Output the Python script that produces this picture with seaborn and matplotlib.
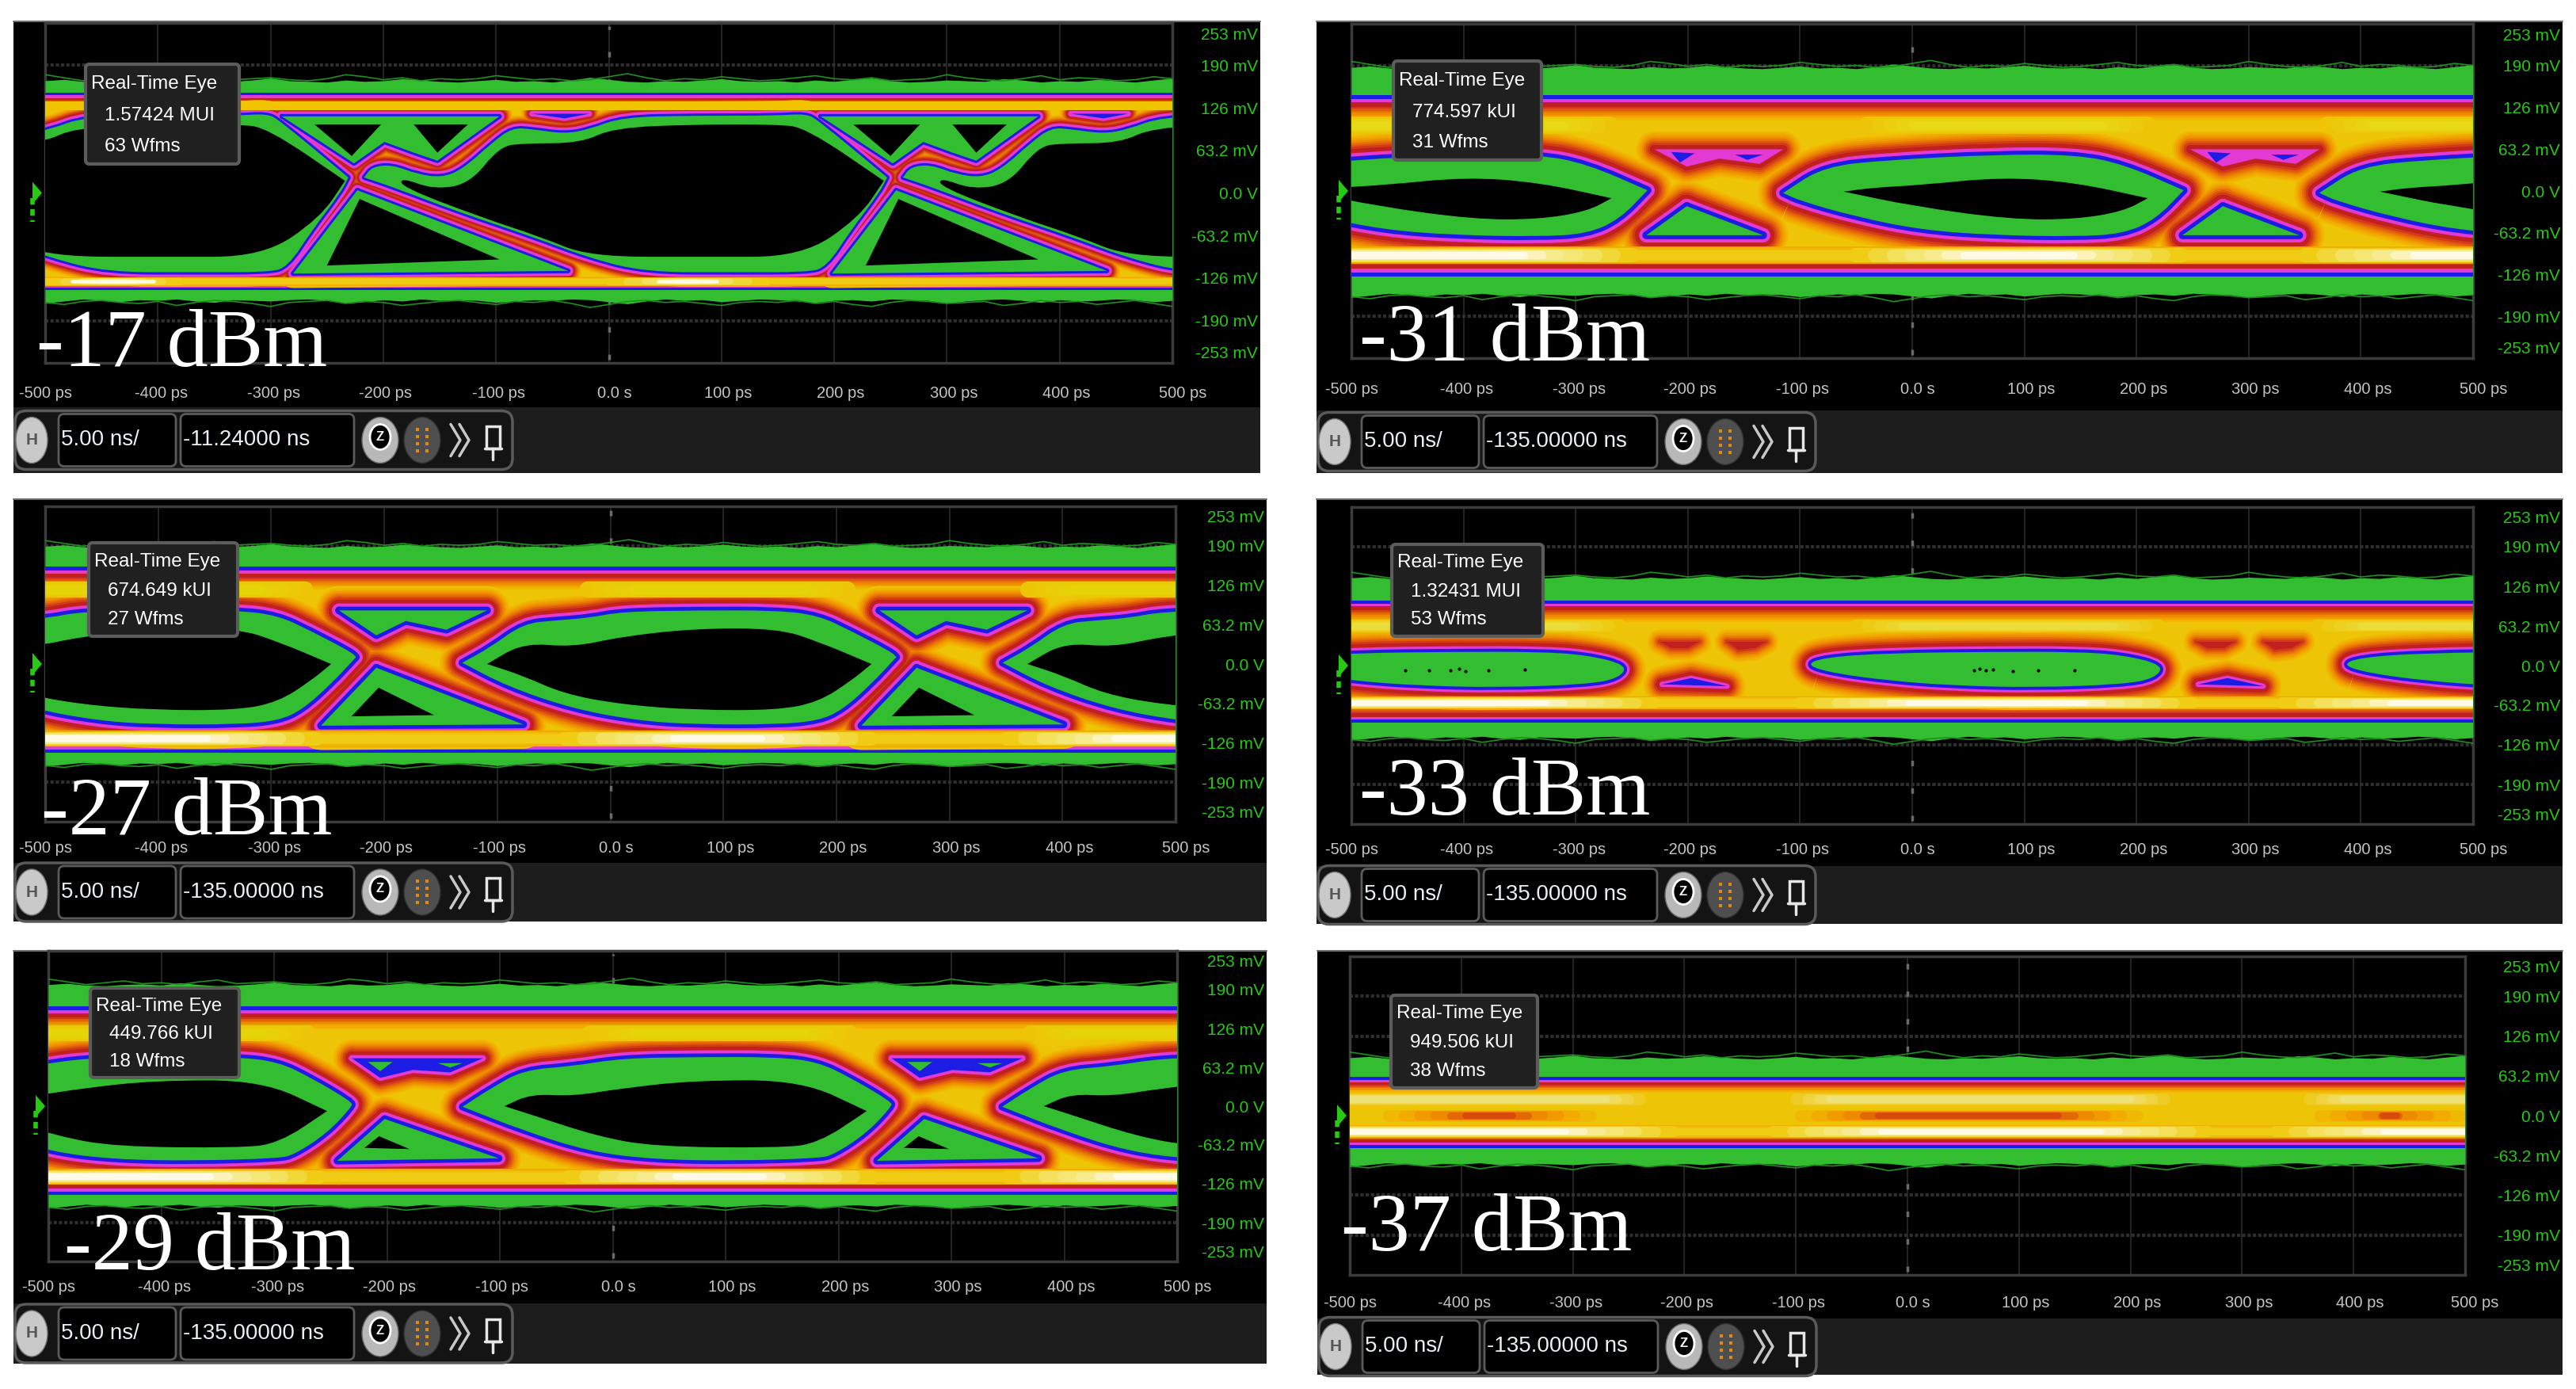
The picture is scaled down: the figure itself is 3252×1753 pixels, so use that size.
import numpy as np
import matplotlib
matplotlib.use("Agg")
import matplotlib.pyplot as plt
from matplotlib.patches import Ellipse, FancyBboxPatch, PathPatch, Polygon, Rectangle
from matplotlib.path import Path
import seaborn as sns

# tick labels and panel captions
x_tick_ps = [-500, -400, -300, -200, -100, 0, 100, 200, 300, 400, 500]
x_label_shift = [0, 3, 3, 2, 2, 5, 6, 6, 6, 6, 9]
x_tick_labels = ["-500 ps", "-400 ps", "-300 ps", "-200 ps", "-100 ps", "0.0 s",
                 "100 ps", "200 ps", "300 ps", "400 ps", "500 ps"]
y_grid_mv = [190, 126, 63.2, -63.2, -126, -190]
y_label_mv = [237, 190, 126, 63.2, 0, -63.2, -126, -190, -237]
y_labels = ["253 mV", "190 mV", "126 mV", "63.2 mV", "0.0 V", "-63.2 mV", "-126 mV", "-190 mV", "-253 mV"]
PERIOD = 478

# wiggle of the green envelope, mV
edge_noise = [2, 4, 1, 0, 2, 3, 1, 5, 2, 0, 1, 3, 6, 2, 1, 0, 3, 1, 2, 5,
              3, 1, 0, 2, 4, 1, 2, 0, 3, 7, 4, 1, 0, 2, 1, 3, 5, 2, 1, 2,
              0, 3, 1, 4, 6, 2, 0, 1, 3, 2, 1, 5, 3, 0, 2, 1, 4, 2, 0, 3, 6]
edge_ps = np.linspace(-500, 500, len(edge_noise))

# -17 dBm
p1_captions = ["-17 dBm", "1.57424 MUI", "63 Wfms", "-11.24000 ns"]
p1_levels = [165, 149, -145, -158]
p1_core = [130, -132]
p1_lens_t = [-217, -217, -210, -192, -170, -148, -130, -104, -86, -68, -39, -17, 12, 77, 149, 175, 186, 247, 247, 240, 215, 193, 175, 113, 33, -17, -68, -134, -192]
p1_lens_mv = [23, 23, 39, 42, 28, 23, 35, 74, 97, 95, 88, 95, 113, 115, 115, 118, 108, 23, 23, 0, -55, -111, -118, -118, -118, -97, -65, -28, 9]
p1_eye_t = [-184, -155, -123, -97, -75, -25, 4, 77, 149, 175, 244, 244, 222, 171, 84, -17, -61, -112, -184]
p1_eye_mv = [23, 5, 14, 69, 74, 74, 97, 102, 102, 97, 18, 18, -37, -95, -95, -95, -65, -37, 9]
p1_roof_t = [-290, -97, -152, -173, -199, -226]
p1_roof_mv = [114, 114, 48, 60, 76, 44]
p1_roof_a_t = [-261, -202, -228]
p1_roof_a_mv = [102, 102, 55]
p1_roof_b_t = [-173, -125, -152]
p1_roof_b_mv = [102, 102, 60]
p1_foot_t = [-223, -280, -36]
p1_foot_mv = [4, -120, -116]
p1_foot_eye_t = [-221, -250, -97]
p1_foot_eye_mv = [-9, -108, -99]
p1_dot_t = [-68, -17, -39]
p1_dot_mv = [118, 118, 111]

# -27 dBm
p2_captions = ["-27 dBm", "674.649 kUI", "27 Wfms", "-135.00000 ns"]
p2_levels = [187, 156, -143, -158]
p2_core = [120, -120]
p2_lens_t = [-131, -131, -106, -77, -48, -19, 10, 75, 148, 184, 213, 249, 253, 253, 231, 205, 184, 148, 75, 25, -33, -91]
p2_lens_mv = [2, 2, 27, 65, 70, 74, 84, 86, 86, 78, 53, 19, 11, 11, -32, -74, -91, -97, -97, -91, -72, -36]
p2_eye_t = [-109, -109, -77, -33, 10, 75, 148, 184, 231, 231, 213, 184, 148, 75, 10, -41, -77]
p2_eye_mv = [0, 0, 34, 27, 44, 57, 57, 36, 0, 0, -27, -61, -74, -74, -65, -48, -19]
p2_roof_t = [-240, -109, -145, -181, -207]
p2_roof_mv = [86, 86, 55, 69, 46]
p2_foot_t = [-207, -256, -77]
p2_foot_mv = [-6, -99, -97]
p2_foot_eye_t = [-205, -229, -156]
p2_foot_eye_mv = [-38, -84, -82]

# -29 dBm
p3_captions = ["-29 dBm", "449.766 kUI", "18 Wfms", "-135.00000 ns"]
p3_levels = [196, 162, -145, -160]
p3_core = [119, -115]
p3_lens_t = [-133, -133, -108, -79, -36, 8, 73, 146, 182, 211, 247, 247, 225, 196, 182, 109, 37, -21, -79]
p3_lens_mv = [-1, -1, 29, 59, 65, 78, 80, 80, 72, 46, 7, -1, -44, -79, -85, -89, -87, -74, -40]
p3_eye_t = [-96, -96, -72, -36, 8, 73, 167, 225, 225, 182, 146, 37, -14, -72]
p3_eye_mv = [0, 0, 20, 16, 29, 42, 42, -8, -8, -61, -68, -66, -49, -14]
p3_roof_t = [-231, -115, -144, -177, -206]
p3_roof_mv = [78, 78, 55, 59, 46]
p3_roof_a_t = [-217, -195, -206]
p3_roof_a_mv = [72, 72, 57]
p3_roof_b_t = [-155, -133, -144]
p3_roof_b_mv = [70, 70, 63]
p3_foot_t = [-202, -244, -101]
p3_foot_mv = [-21, -89, -85]
p3_foot_eye_t = [-207, -220, -180]
p3_foot_eye_mv = [-49, -68, -70]

# -31 dBm
p4_captions = ["-31 dBm", "774.597 kUI", "31 Wfms", "-135.00000 ns"]
p4_levels = [185, 145, -129, -155]
p4_core = [99, -97]
p4_lens_t = [-115, -115, -79, -21, 73, 145, 188, 242, 242, 217, 188, 145, 73, 8, -50, -100]
p4_lens_mv = [-3, -3, 37, 47, 55, 55, 41, 1, 1, -43, -65, -69, -67, -59, -39, -15]
p4_eye_t = [-61, -61, -35, 8, 80, 145, 210, 210, 188, 145, 87, 1]
p4_eye_mv = [-1, -1, 5, 9, 21, 13, -11, -11, -31, -43, -43, -23]
p4_roof_t = [-230, -115, -136, -172, -201]
p4_roof_mv = [63, 63, 41, 49, 37]
p4_roof_a_t = [-215, -194, -207]
p4_roof_a_mv = [59, 57, 43]
p4_roof_b_t = [-158, -133, -147]
p4_roof_b_mv = [55, 55, 47]
p4_foot_t = [-201, -237, -133]
p4_foot_mv = [-23, -67, -67]

# -33 dBm
p5_captions = ["-33 dBm", "1.32431 MUI", "53 Wfms", "-135.00000 ns"]
p5_levels = [138, 104, -91, -113]
p5_core = [63, -59]
p5_lens_t = [-95, -79, -21, 73, 145, 188, 224, 217, 188, 109, 37, -21, -71]
p5_lens_mv = [1, 13, 20, 22, 22, 17, 1, -20, -30, -35, -32, -24, -12]
p5_dot_t = [-223, -197, -172, -165]
p5_dot_mv = [-30, -20, -30, -33]
p5_patch_a_t = [-225, -190, -200, -215]
p5_patch_a_mv = [38, 38, 28, 28]
p5_patch_b_t = [-165, -130, -140, -155]
p5_patch_b_mv = [38, 38, 28, 25]
p5_speck_t = [-452, -431, -412, -404, -398, -378, -345, 55, 60, 66, 72, 90, 112, 145]
p5_speck_mv = [-8, -8, -8, -5, -9, -7, -6, -8, -5, -7, -6, -9, -8, -7]

# -37 dBm
p6_captions = ["-37 dBm", "949.506 kUI", "38 Wfms", "-135.00000 ns"]
p6_levels = [90, 62, -52, -75]
p6_core = [26, -25]
p6_mid_ps = [(-480, -270), (-110, 220), (355, 510)]

# colour ladder from the green edge into the hottest part of the trace
BLUE = "#1c1ce4"
MAGENTA = "#e43ad4"
hot_colors = sns.blend_palette(["#c2201f", "#e0570e", "#ee8a00", "#f2ab00", "#eec406"], 9)
hot_weights = np.array([2.2, 1.2, 1, 1, 1, 1, 1, 1, 1]) / 10.4
ladder = [BLUE, MAGENTA] + hot_colors
GREEN = "#33bd30"
YELLOW = "#eec406"
WHITE = "#fffbe6"
TICK_GREEN = "#27c915"

sns.set_theme(style="dark")
plt.rcParams["font.family"] = ["Liberation Sans Narrow", "Liberation Sans"]

W, H = 3252, 1753
fig = plt.figure(figsize=(W / 100, H / 100), dpi=100, facecolor="white")
page = fig.add_axes([0, 0, 1, 1], zorder=0)
page.set_xlim(0, W)
page.set_ylim(H, 0)
page.axis("off")
over = fig.add_axes([0, 0, 1, 1], zorder=5)
over.set_xlim(0, W)
over.set_ylim(H, 0)
over.axis("off")
over.patch.set_alpha(0)


def loop(ts, mvs, shift=0):
    return [t + shift for t in ts] + [ts[0] + shift], list(mvs) + [mvs[0]]


def round_path(ts, mvs, shift=0):
    # closed quadratic curve that uses the read points as control points
    p = np.column_stack([np.array(ts, dtype=float) + shift, mvs])
    mid = (p + np.roll(p, -1, axis=0)) / 2
    verts = [mid[-1]]
    codes = [Path.MOVETO]
    for a, b in zip(p, mid):
        verts += [a, b]
        codes += [Path.CURVE3, Path.CURVE3]
    return Path(verts, codes)


def paint(ax, ts, mvs, shift, col, lw):
    if len(ts) >= 8:
        ax.add_patch(PathPatch(round_path(ts, mvs, shift), fc=col, ec=col, lw=lw, joinstyle="round", zorder=3))
    else:
        xs, ys = loop(ts, mvs, shift)
        ax.fill(xs, ys, color=col, lw=0, zorder=3)
        if lw > 0:
            sns.lineplot(x=xs, y=ys, ax=ax, color=col, lw=lw, sort=False, estimator=None,
                         solid_joinstyle="round", solid_capstyle="round", zorder=3)


def streak(ax, a, b, y, width, colors, inset, pts):
    # stacked strokes so the bright streak fades out like the persistence display
    n = len(colors)
    for i, c in enumerate(colors):
        frac = 1 - 0.6 * i / n
        sns.lineplot(x=[a + i * inset, b - i * inset], y=[y, y], ax=ax, color=c, lw=width * frac * pts,
                     solid_capstyle="round", zorder=4)


def draw_eye(ax, p, plot_h):
    pts = plot_h / 506 * 0.72
    blue_w, mag_w, hot_w = p["rim"]
    widths = [blue_w, mag_w] + list(hot_w * hot_weights)
    top_g, top_b, bot_b, bot_g = p["levels"]

    # green envelope with its noisy edge
    noise = np.array(edge_noise)
    up = noise + top_g
    low = bot_g - noise[::-1]
    ax.fill_between(edge_ps, low, up, color=GREEN, lw=0, zorder=3)
    sns.lineplot(x=edge_ps, y=top_g + noise[::-1] * 1.5 + 2, ax=ax, color="#1f8f1f", lw=1.2, zorder=3)
    sns.lineplot(x=edge_ps, y=bot_g - noise * 1.5 - 2, ax=ax, color="#1f8f1f", lw=1.2, zorder=3)

    # nested band, blue on the outside
    cum = 0
    for col, w in zip(ladder, widths):
        ax.fill_between([-500, 500], bot_b + cum, top_b - cum, color=col, lw=0, zorder=3)
        cum += w

    # openings: each contour is stroked outward through the ladder
    shapes = p["shapes"]
    for j in range(len(ladder) - 1, -1, -1):
        for ts, mvs, lvl, shifts in shapes:
            for sh in shifts:
                if j >= lvl:
                    paint(ax, ts, mvs, sh, ladder[j], 2 * sum(widths[lvl:j + 1]) * pts)
                elif j == lvl - 1:
                    paint(ax, ts, mvs, sh, ladder[j], 0)
    for ts, mvs, lvl, shifts in shapes:
        if lvl == 0:
            for sh in shifts:
                paint(ax, ts, mvs, sh, GREEN, 0)
    for ts, mvs, col, shifts in p["bits"]:
        for sh in shifts:
            paint(ax, ts, mvs, sh, col, 0)
    if "specks" in p:
        sns.scatterplot(x=p["specks"][0], y=p["specks"][1], ax=ax, color="black", s=9, linewidth=0, zorder=4)

    # brighter cores inside the rails
    s = p["core_scale"]
    top_c, bot_c = p["core"]
    for a, b in p["top_spans"]:
        streak(ax, a, b, top_c, 26 * s, sns.blend_palette([YELLOW, p["top_hot"]], 5), 10, pts)
    streak(ax, -520, 520, bot_c, 26 * s, sns.blend_palette(["#f2ab00", "#f0cc14"], 4), 0, pts)
    for a, b in p["bot_spans"]:
        streak(ax, a, b, bot_c, 22 * s, sns.blend_palette(["#f0cc14", "#f4e25e", "#f6eb8e", WHITE], 7), 16, pts)
    for a, b in p.get("mid_spans", []):
        streak(ax, a, b, 0, 20, sns.blend_palette([YELLOW, "#f2ab00", "#ee8a00", "#d9480c"], 7), 14, pts)


def draw_toolbar(left, cy, delay):
    page.add_patch(FancyBboxPatch((left + 2, cy - 37), 628, 74, boxstyle="round,pad=0,rounding_size=14",
                                  fc="#141414", ec="#5a5a5a", lw=2.5))
    page.add_patch(Ellipse((left + 23, cy), 40, 58, fc="#c9c9c9", ec="#777777", lw=1))
    page.text(left + 23, cy, "H", color="#555555", fontsize=15, ha="center", va="center", fontweight="bold")
    for x0, w in [(left + 57, 148), (left + 211, 219)]:
        page.add_patch(FancyBboxPatch((x0, cy - 33), w, 66, boxstyle="round,pad=0,rounding_size=7",
                                      fc="black", ec="#5a5a5a", lw=2))
    page.text(left + 60, cy, "5.00 ns/", color="#e8f0f4", fontsize=20, ha="left", va="center")
    page.text(left + 214, cy, delay, color="#e8f0f4", fontsize=20, ha="left", va="center")
    page.add_patch(Ellipse((left + 463, cy), 46, 58, fc="#b8b8b8", ec="#666666", lw=1))
    page.add_patch(Ellipse((left + 463, cy - 4), 26, 32, fc="black", ec="white", lw=2))
    page.text(left + 463, cy - 4, "Z", color="white", fontsize=12, ha="center", va="center", fontweight="bold")
    page.add_patch(Ellipse((left + 516, cy), 46, 58, fc="#4f4f4f", ec="#2f2f2f", lw=1))
    for dx in (-6, 6):
        for dy in (-14, -5, 4, 13):
            page.add_patch(Rectangle((left + 516 + dx - 2, cy + dy - 2), 4, 4, fc="#e08a12", lw=0))
    for dx in (0, 11):
        page.plot([left + 552 + dx, left + 564 + dx, left + 552 + dx], [cy - 20, cy, cy + 20],
                  color="#c8c8c8", lw=2.5)
    page.add_patch(Rectangle((left + 597, cy - 18), 17, 28, fc="none", ec="#e6e6e6", lw=2.5))
    page.plot([left + 595, left + 616], [cy + 10, cy + 10], color="#e6e6e6", lw=2.5)
    page.plot([left + 605, left + 605], [cy + 10, cy + 24], color="#e6e6e6", lw=2.5)


def draw_panel(p):
    L, T, R, B = p["outer"]
    x0, y0, x1, y1 = p["plot"]
    tb_top = p["tool_top"]
    page.add_patch(Rectangle((L, T), R - L, B - T, fc="black", lw=0))
    page.add_patch(Rectangle((L, tb_top), R - L, B - tb_top, fc="#1d1d1d", lw=0))
    page.plot([L, R], [T, T], color="#6e6e6e", lw=1.5)

    ax = fig.add_axes([x0 / W, 1 - y1 / H, (x1 - x0) / W, (y1 - y0) / H], zorder=2, facecolor="black")
    ax.grid(False)
    for sp in ax.spines.values():
        sp.set_color("#3c3c3c")
        sp.set_linewidth(2.5)
    ax.vlines(x_tick_ps[1:-1], -253, 253, color="#232323", lw=1.5, zorder=1)
    ax.hlines(y_grid_mv, -500, 500, color="#2e2e2e", lw=3, linestyles=(0, (1, 0.6)), zorder=1)
    ax.hlines(0, -500, 500, color="#3a3a3a", lw=2, zorder=1)
    ax.vlines(np.arange(-480, 500, 20), -5, 5, color="#4a4a4a", lw=1.5, zorder=1)
    ax.vlines(0, -248, 248, color="#6a6a6a", lw=2.5, linestyles=(0, (2, 8)), zorder=1)

    draw_eye(ax, p, y1 - y0)
    ax.set_xlabel("")
    ax.set_ylabel("")

    ax.set_xticks([])
    ax.set_yticks(y_label_mv, y_labels)
    ax.set_xlim(-500, 500)
    ax.set_ylim(-253, 253)
    ax.tick_params(axis="y", length=0, colors=TICK_GREEN, labelsize=15, left=False, labelleft=False,
                   right=False, labelright=True, pad=(R - 3 - x1) * 0.72)
    for lab in ax.get_yticklabels():
        lab.set_ha("right")
    # time labels sit a little to the right of their grid lines
    lab_y = -(p["xlab_y"] - y1) / (y1 - y0)
    for t, d, lab in zip(x_tick_ps, x_label_shift, x_tick_labels):
        ax.text(t + d, lab_y, lab, transform=ax.get_xaxis_transform(), color="#c4c4c4", fontsize=14.5,
                ha="center", va="center", clip_on=False)

    # channel marker at the zero line
    cy0 = (y0 + y1) / 2
    page.add_patch(Polygon([[x0 - 16, cy0 - 14], [x0 - 4, cy0], [x0 - 16, cy0 + 14]], fc=TICK_GREEN, lw=0))
    page.plot([x0 - 16, x0 - 16], [cy0 + 6, cy0 + 36], color=TICK_GREEN, lw=4, linestyle=(0, (1.5, 1)))

    # info box
    bx0, by0, bx1, by1 = p["box"]
    over.add_patch(FancyBboxPatch((bx0, by0), bx1 - bx0, by1 - by0, boxstyle="round,pad=0,rounding_size=5",
                                  fc="#202020", ec="#5c5c5c", lw=3))
    caption, rate, wfms, delay = p["captions"]
    cx = bx0 + 7
    step = (by1 - by0) / 3.1
    over.text(cx, by0 + step * 0.62, "Real-Time Eye", color="white", fontsize=17.5, va="center")
    over.text(cx + 17, by0 + step * 1.6, rate, color="white", fontsize=17.5, va="center")
    over.text(cx + 17, by0 + step * 2.55, wfms, color="white", fontsize=17.5, va="center")

    # power label
    lx, ly = p["label"]
    over.text(lx, ly, caption, color="white", fontsize=75, family="Liberation Serif", ha="left", va="baseline")
    draw_toolbar(L, (tb_top + B) / 2, delay)


fr = [-PERIOD, 0, PERIOD]
xs2 = [0, PERIOD]
panels = [
    dict(outer=(17, 27, 1591, 597), plot=(57, 29, 1480, 458), tool_top=514, xlab_y=496, box=(108, 81, 302, 207),
         label=(46, 462), captions=p1_captions, levels=p1_levels, core=p1_core, core_scale=0.5,
         rim=(3.5, 4, 14), top_spans=[(-530, 530)], top_hot="#f2c400",
         bot_spans=[(-500, -380), (0, 140)],
         shapes=[(p1_lens_t, p1_lens_mv, 0, fr), (p1_roof_t, p1_roof_mv, 0, xs2), (p1_foot_t, p1_foot_mv, 0, xs2),
                 (p1_dot_t, p1_dot_mv, 1, xs2)],
         bits=[(p1_eye_t, p1_eye_mv, "black", fr), (p1_roof_a_t, p1_roof_a_mv, "black", xs2),
               (p1_roof_b_t, p1_roof_b_mv, "black", xs2), (p1_foot_eye_t, p1_foot_eye_mv, "black", xs2)]),
    dict(outer=(17, 630, 1599, 1163), plot=(57, 639, 1484, 1037), tool_top=1089, xlab_y=1070, box=(112, 685, 300, 803),
         label=(52, 1053), captions=p2_captions, levels=p2_levels, core=p2_core, core_scale=1,
         rim=(6, 5, 28), top_spans=[(-540, -270), (-20, 210), (370, 540)], top_hot="#e6d408",
         bot_spans=[(-620, -260), (-40, 230), (350, 620)],
         shapes=[(p2_lens_t, p2_lens_mv, 0, fr), (p2_roof_t, p2_roof_mv, 0, xs2), (p2_foot_t, p2_foot_mv, 0, xs2)],
         bits=[(p2_eye_t, p2_eye_mv, "black", fr), (p2_foot_eye_t, p2_foot_eye_mv, "black", xs2)]),
    dict(outer=(17, 1200, 1599, 1721), plot=(61, 1200, 1486, 1592), tool_top=1645, xlab_y=1625, box=(114, 1247, 302, 1360),
         label=(81, 1602), captions=p3_captions, levels=p3_levels, core=p3_core, core_scale=1,
         rim=(6, 5, 28), top_spans=[(-540, -270), (-20, 210), (370, 540)], top_hot="#e6d408",
         bot_spans=[(-620, -260), (-40, 230), (350, 620)],
         shapes=[(p3_lens_t, p3_lens_mv, 0, fr), (p3_roof_t, p3_roof_mv, 1, xs2), (p3_foot_t, p3_foot_mv, 0, xs2)],
         bits=[(p3_eye_t, p3_eye_mv, "black", fr), (p3_roof_a_t, p3_roof_a_mv, GREEN, xs2),
               (p3_roof_b_t, p3_roof_b_mv, GREEN, xs2), (p3_foot_eye_t, p3_foot_eye_mv, "black", xs2)]),
    dict(outer=(1662, 27, 3235, 597), plot=(1706, 30, 3122, 452), tool_top=518, xlab_y=491, box=(1759, 77, 1946, 202),
         label=(1716, 455), captions=p4_captions, levels=p4_levels, core=p4_core, core_scale=1,
         rim=(6, 5, 30), top_spans=[(-540, -270), (-40, 210), (370, 540)], top_hot="#e8d816",
         bot_spans=[(-620, -250), (-50, 240), (350, 620)],
         shapes=[(p4_lens_t, p4_lens_mv, 0, fr), (p4_roof_t, p4_roof_mv, 2, xs2), (p4_foot_t, p4_foot_mv, 0, xs2)],
         bits=[(p4_eye_t, p4_eye_mv, "black", fr), (p4_roof_a_t, p4_roof_a_mv, BLUE, xs2),
               (p4_roof_b_t, p4_roof_b_mv, BLUE, xs2)]),
    dict(outer=(1662, 630, 3235, 1166), plot=(1706, 640, 3122, 1040), tool_top=1093, xlab_y=1072, box=(1757, 687, 1948, 803),
         label=(1716, 1028), captions=p5_captions, levels=p5_levels, core=p5_core, core_scale=0.8,
         rim=(5, 4, 28), top_spans=[(-540, -260), (-50, 220), (360, 540)], top_hot="#ecdc3a",
         bot_spans=[(-620, -230), (-100, 250), (330, 620)], specks=(p5_speck_t, p5_speck_mv),
         shapes=[(p5_lens_t, p5_lens_mv, 0, fr), (p5_dot_t, p5_dot_mv, 1, xs2), (p5_patch_a_t, p5_patch_a_mv, 3, xs2),
                 (p5_patch_b_t, p5_patch_b_mv, 3, xs2)],
         bits=[]),
    dict(outer=(1663, 1200, 3235, 1735), plot=(1704, 1207, 3112, 1609), tool_top=1664, xlab_y=1645, box=(1756, 1256, 1941, 1373),
         label=(1693, 1578), captions=p6_captions, levels=p6_levels, core=p6_core, core_scale=0.8,
         rim=(5, 4, 18), top_spans=[(-540, -230), (-110, 240), (350, 540)], top_hot="#f0e27a",
         bot_spans=[(-620, -210), (-120, 270), (330, 620)], mid_spans=p6_mid_ps,
         shapes=[], bits=[]),
]

for panel in panels:
    draw_panel(panel)

fig.savefig("out.png", dpi=100, facecolor="white")
